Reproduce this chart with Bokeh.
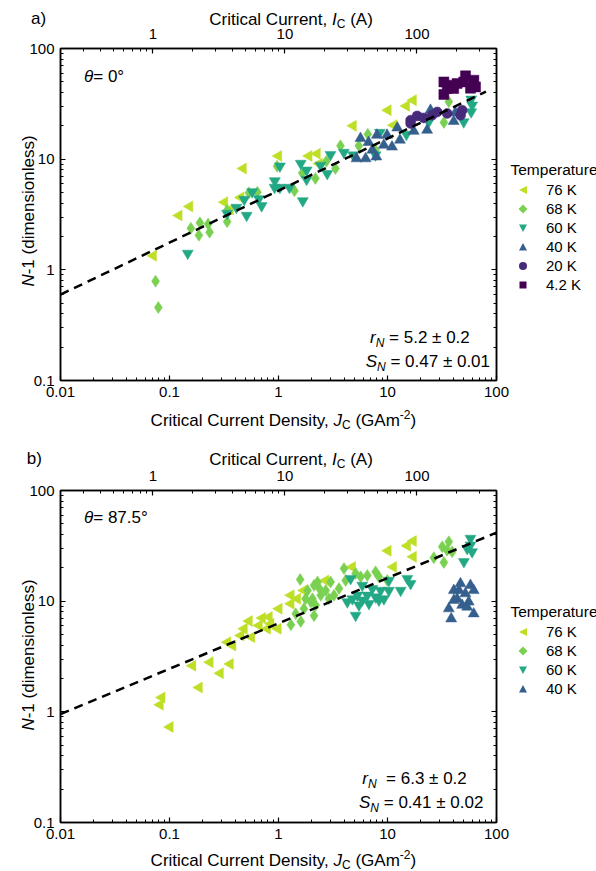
import math
from bokeh.plotting import figure
from bokeh.models import (LogAxis, Range1d, LogScale, FixedTicker, CustomJSTickFormatter, Div, GridBox)
from bokeh.embed import file_html
from bokeh.resources import INLINE

FONT = "Liberation Sans"

# ---------------- data (panel a: theta = 0 deg) ----------------
a_jc_76 = [0.071, 0.122, 0.153, 0.32, 0.36, 0.45, 0.474, 1.0, 1.9, 2.26, 2.36, 4.84, 10.1, 14.9, 17.2, 11.4]
a_n_76 = [1.34, 3.1, 3.74, 4.09, 3.5, 4.5, 8.24, 10.7, 10.7, 11.2, 9.1, 20.0, 27.7, 30.3, 34.1, 20.3]

a_jc_68 = [0.0745, 0.079, 0.157, 0.186, 0.19, 0.226, 0.233, 0.338, 0.338, 0.535, 0.64, 0.97, 1.4, 1.65,
           2.18, 2.75, 3.33, 3.7, 5.45, 6.6, 7.76, 32.9, 36.5]
a_n_68 = [0.79, 0.457, 2.37, 2.05, 2.66, 2.59, 2.19, 2.72, 3.46, 4.96, 5.03, 8.65, 5.17, 7.5,
          6.7, 9.6, 8.24, 13.2, 13.2, 16.8, 12.1, 21.5, 33.0]

a_jc_60 = [0.147, 0.338, 0.41, 0.51, 0.485, 0.574, 0.66, 0.70, 0.925, 0.92, 1.03, 1.03, 1.26, 1.6, 1.81,
           1.81, 1.67, 3.0, 2.43, 2.8, 3.98, 4.84, 8.5, 7.76, 14.9, 23.9, 50.0, 58.6, 59.8, 58.6]
a_n_60 = [1.41, 3.23, 3.66, 3.1, 4.32, 5.07, 4.38, 3.79, 6.37, 5.55, 5.55, 8.65, 5.55, 9.15, 7.95,
          6.56, 4.2, 11.0, 8.8, 7.4, 11.5, 10.9, 17.4, 10.9, 16.7, 21.7, 21.7, 34.8, 30.7, 26.7]

a_jc_40 = [5.65, 5.2, 6.3, 7.9, 6.7, 8.0, 9.9, 9.25, 11.0, 12.3, 13.0, 17.4, 23.1, 24.8, 40.5, 42.0, 7.25]
a_n_40 = [15.4, 10.1, 10.1, 10.5, 14.2, 16.5, 16.5, 13.4, 12.9, 19.2, 14.9, 17.9, 18.3, 27.7, 22.0, 26.4, 12.1]

a_jc_20 = [16.3, 18.7, 21.5, 25.7, 28.6, 35.3, 48.4, 46.8, 16.3]
a_n_20 = [22.5, 24.6, 23.6, 25.0, 26.7, 25.9, 27.7, 25.0, 21.0]

a_jc_4 = [32.9, 32.9, 36.5, 43.5, 50.1, 52.0, 62.0, 64.2, 35.3, 40.5, 57.7]
a_n_4 = [49.9, 38.4, 46.6, 48.3, 49.9, 56.6, 51.7, 45.0, 43.5, 43.5, 43.8]

a_rN, a_SN = 5.2, 0.47
a_fit_x = [0.01, 80.0]

# ---------------- data (panel b: theta = 87.5 deg) ----------------
b_jc_76 = [0.101, 0.085, 0.082, 0.187, 0.163, 0.235, 0.292, 0.36, 0.341, 0.38, 0.452, 0.484, 0.566, 0.538,
           0.664, 0.71, 0.82, 0.85, 0.79, 1.01, 0.99, 1.3, 1.49, 1.3, 1.71, 2.71, 4.76, 10.1, 15.2, 17.2,
           17.2, 11.3]
b_n_76 = [0.73, 1.35, 1.16, 1.66, 2.61, 2.81, 2.23, 2.71, 4.26, 3.97, 4.9, 5.63, 4.73, 6.61,
          6.03, 7.04, 7.19, 6.25, 5.63, 8.55, 5.63, 11.3, 10.5, 9.5, 12.5, 15.4, 20.4, 28.5, 31.7, 34.9,
          25.2, 20.4]

b_jc_68 = [1.3, 1.6, 1.44, 1.58, 1.85, 2.05, 2.28, 2.19, 2.12, 2.12, 2.44, 2.71, 3.01, 3.23, 3.59, 3.99,
           4.13, 5.1, 5.67, 6.53, 7.78, 8.34, 1.71, 1.77, 1.98, 2.37, 2.9, 9.96, 26.6, 32.9, 36.5, 35.2,
           39.2, 31.8]
b_n_68 = [6.12, 6.56, 7.7, 15.7, 12.5, 10.5, 14.9, 9.2, 7.4, 13.9, 11.3, 12.5, 14.9, 11.3, 13.0, 19.7,
          15.4, 17.8, 16.6, 17.1, 18.4, 16.6, 8.55, 10.5, 9.84, 13.0, 10.5, 15.4, 24.7, 22.4, 34.4, 28.9,
          27.9, 31.0]

b_jc_60 = [4.59, 4.28, 4.76, 5.1, 5.29, 5.87, 5.87, 6.53, 6.76, 7.26, 7.78, 8.65, 9.27, 10.3, 10.3, 13.2,
           15.2, 16.3, 5.47, 8.34, 50.2, 57.7, 53.8, 59.7, 57.7]
b_n_60 = [16.0, 9.84, 10.5, 7.43, 11.3, 13.9, 10.2, 11.3, 9.5, 13.0, 10.9, 12.5, 10.5, 15.4, 12.5, 12.5,
          16.0, 14.4, 9.2, 10.2, 22.7, 36.9, 29.9, 27.9, 32.1]

b_jc_40 = [36.5, 38.4, 40.6, 43.5, 46.7, 48.4, 51.8, 55.6, 57.7, 61.8, 61.8, 53.8, 45.2, 40.6]
b_n_40 = [8.55, 6.94, 12.5, 10.5, 14.4, 9.2, 11.7, 9.84, 13.9, 12.5, 7.7, 8.86, 12.5, 10.2]

b_rN, b_SN = 6.3, 0.41
b_fit_x = [0.01, 100.0]

# tick definitions
x_major = [0.01, 0.1, 1, 10, 100]
y_major = [0.1, 1, 10, 100]
ic_major = [1, 10, 100]

TEMPS_A = ["76 K", "68 K", "60 K", "40 K", "20 K", "4.2 K"]
TEMPS_B = ["76 K", "68 K", "60 K", "40 K"]

COL = {"76 K": "#bddf26", "68 K": "#7ad151", "60 K": "#22a884", "40 K": "#355f8d",
       "20 K": "#472a7a", "4.2 K": "#440154"}
MARK = {"76 K": ("triangle", 11, math.pi / 2), "68 K": ("diamond", 12, 0),
        "60 K": ("inverted_triangle", 11, 0), "40 K": ("triangle", 11, 0),
        "20 K": ("circle", 10, 0), "4.2 K": ("square", 10, 0)}

PAGE_W, PAGE_H = 596, 871


def minors(exps, ms=range(2, 10)):
    return [m * 10.0 ** e for e in exps for m in ms]


fmt_code = "return String(Number(tick.toPrecision(6)));"


def style_axis(ax, standoff, show_labels=True):
    ax.axis_line_color = "black"
    ax.axis_line_width = 1.5
    ax.major_tick_in = 5
    ax.major_tick_out = 0
    ax.minor_tick_in = 3
    ax.minor_tick_out = 0
    ax.major_tick_line_color = "black"
    ax.minor_tick_line_color = "black"
    ax.major_tick_line_width = 1.2
    ax.minor_tick_line_width = 1
    ax.major_label_text_font = FONT
    ax.major_label_text_font_size = "15px"
    ax.major_label_text_color = "black"
    ax.major_label_standoff = standoff
    ax.formatter = CustomJSTickFormatter(code=fmt_code if show_labels else "return '';")


def make_panel(top_border, bottom_border, temps, jcs, ns, rN, SN, fit_x):
    p = figure(frame_width=436, frame_height=332, x_axis_type="log", y_axis_type="log",
               x_range=Range1d(0.01, 100), y_range=Range1d(0.1, 100),
               min_border_left=60, min_border_right=100, min_border_top=top_border,
               min_border_bottom=bottom_border, output_backend="svg", toolbar_location=None,
               background_fill_color="white", border_fill_color="white")
    p.xgrid.visible = False
    p.ygrid.visible = False
    p.outline_line_color = "black"
    p.outline_line_width = 1.5
    p.extra_x_ranges = {"ic": Range1d(0.2, 400)}
    p.extra_x_scales = {"ic": LogScale()}

    p.xaxis.ticker = FixedTicker(ticks=x_major, minor_ticks=minors([-2, -1, 0, 1]))
    p.yaxis.ticker = FixedTicker(ticks=y_major, minor_ticks=minors([-1, 0, 1]))
    style_axis(p.xaxis[0], 6)
    style_axis(p.yaxis[0], 6)

    it = FixedTicker(ticks=ic_major,
                     minor_ticks=minors([-1], range(3, 10)) + minors([0, 1]) + [200, 300, 400])
    top = LogAxis(x_range_name="ic", ticker=it)
    style_axis(top, 10)
    p.add_layout(top, "above")
    right = LogAxis(ticker=FixedTicker(ticks=y_major, minor_ticks=minors([-1, 0, 1])))
    style_axis(right, 0, show_labels=False)
    p.add_layout(right, "right")

    for name, jc, nn in zip(temps, jcs, ns):
        c = COL[name]
        marker, size, angle = MARK[name]
        p.scatter(jc, nn, marker=marker, size=size, angle=angle, fill_color=c,
                  line_color=c, line_width=0.5)

    fy = [rN * x ** SN for x in fit_x]
    p.line(fit_x, fy, line_color="black", line_width=2.5, line_dash="9 6")
    return p


pa = make_panel(48, 56, TEMPS_A, [a_jc_76, a_jc_68, a_jc_60, a_jc_40, a_jc_20, a_jc_4],
                [a_n_76, a_n_68, a_n_60, a_n_40, a_n_20, a_n_4], a_rN, a_SN, a_fit_x)
pb = make_panel(46, 52, TEMPS_B, [b_jc_76, b_jc_68, b_jc_60, b_jc_40],
                [b_n_76, b_n_68, b_n_60, b_n_40], b_rN, b_SN, b_fit_x)

# ---------------- HTML overlay with rich text and legend ----------------
SUB = "<span style='font-size:12px;vertical-align:-3.5px;line-height:0'>{}</span>"
SUBI = "<span style='font-size:12px;vertical-align:-4px;line-height:0;font-style:italic'>{}</span>"
SUP = "<span style='font-size:12px;vertical-align:7px;line-height:0'>{}</span>"


def txt(x, baseline, html, size=17, center=False, rotate=False):
    asc = 0.8465 * size
    base = (f"position:absolute;left:{x}px;top:{baseline}px;font-family:'{FONT}';"
            f"font-size:{size}px;line-height:{size}px;white-space:nowrap;color:black;"
            f"transform-origin:0 0;")
    if rotate:
        tr = f"transform:rotate(-90deg) translate(-50%,-{asc:.2f}px);"
    elif center:
        tr = f"transform:translate(-50%,-{asc:.2f}px);"
    else:
        tr = f"transform:translate(0,-{asc:.2f}px);"
    return f"<div style=\"{base}{tr}\">{html}</div>"


SHAPES = {
    "76 K": "<polygon points='1,5 9,1 9,9' fill='{c}'/>",
    "68 K": "<polygon points='5,0.5 9.5,5 5,9.5 0.5,5' fill='{c}'/>",
    "60 K": "<polygon points='1,1.5 9,1.5 5,9' fill='{c}'/>",
    "40 K": "<polygon points='5,1 9,8.5 1,8.5' fill='{c}'/>",
    "20 K": "<circle cx='5' cy='5' r='4' fill='{c}'/>",
    "4.2 K": "<rect x='1.5' y='1.5' width='7' height='7' fill='{c}'/>",
}


def legend_html(temps, title_center, first_center, step):
    out = [txt(505.5, title_center + 5.5, "Temperature", size=15.5)]
    for i, name in enumerate(temps):
        cy = first_center + i * step
        shape = SHAPES[name].format(c=COL[name])
        out.append(f"<svg width='10' height='10' style='position:absolute;left:{518.3 - 5}px;"
                   f"top:{cy - 5}px'>{shape}</svg>")
        out.append(txt(541, cy + 5.4, name, size=15))
    return out


parts = []
for off, tag, theta, rhtml, shtml, rx, sx, rby, sby, tagx, xlab_y, ylab_c, th_y, top_y in [
    (0, "a)", "= 0°", " = 5.2 ± 0.2", " = 0.47 ± 0.01", 365, 360.7, 337.5, 361.7, 26, 420.5, 206, 77, 19.5),
    (436, "b)", "= 87.5°", "&nbsp;&nbsp;= 6.3 ± 0.2", " = 0.41 ± 0.02", 357.3, 354, 778.5, 802.7, 21.7,
     861, 650, 517.5, 459.5),
]:
    parts.append(txt(tagx, top_y - 0.5, tag))
    parts.append(txt(286, top_y, "Critical Current, <i>I</i>" + SUB.format("C") + " (A)", center=True))
    parts.append(txt(278.4, xlab_y, "Critical Current Density, <i>J</i>" + SUB.format("C")
                     + " (GAm" + SUP.format("-2") + ")", center=True))
    parts.append(txt(29, ylab_c, "<i>N</i>-1 (dimensionless)", rotate=True))
    parts.append(txt(79, th_y, "<i>θ</i>" + theta))
    parts.append(txt(rx, rby, "<i>r</i>" + SUBI.format("N") + rhtml))
    parts.append(txt(sx, sby, "<i>S</i>" + SUBI.format("N") + shtml))

parts += legend_html(TEMPS_A, 164, 185, 19)
parts += legend_html(TEMPS_B, 606.7, 626.7, 19.1)

html = (f"<div style='position:relative;width:{PAGE_W}px;height:{PAGE_H}px;overflow:hidden;"
        f"pointer-events:none'>" + "".join(parts) + "</div>")
overlay = Div(text=html, width=PAGE_W, height=PAGE_H)

layout = GridBox(children=[(pa, 0, 0), (pb, 1, 0), (overlay, 0, 0, 2, 1)], spacing=0)
open("out.html", "w").write(file_html(layout, INLINE))
